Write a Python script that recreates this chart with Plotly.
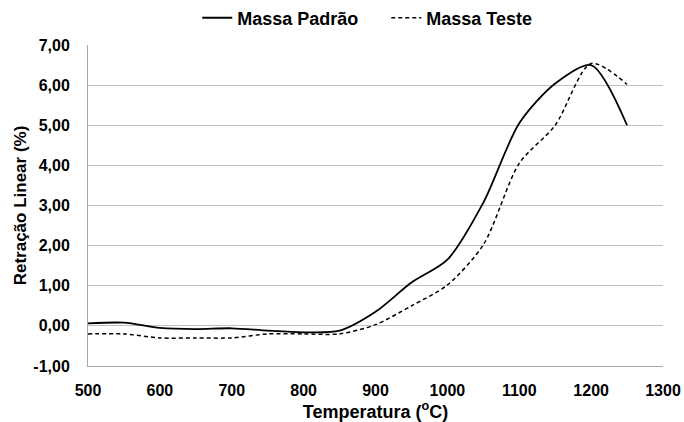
import plotly.graph_objects as go

# Sintering temperature (°C) and linear shrinkage (%) for each body
temperatura = [500, 550, 600, 650, 700, 750, 800, 850, 900, 950, 1000, 1050, 1100, 1150, 1200, 1250]
massa_padrao = [0.06, 0.08, -0.05, -0.08, -0.06, -0.12, -0.16, -0.12, 0.35, 1.08, 1.65, 3.07, 5.05, 6.04, 6.50, 5.00]
massa_teste = [-0.20, -0.20, -0.30, -0.30, -0.30, -0.20, -0.20, -0.20, 0.03, 0.50, 1.02, 2.02, 4.05, 5.00, 6.54, 6.02]

y_ticks = [-1, 0, 1, 2, 3, 4, 5, 6, 7]
y_labels = [f"{v:.2f}".replace(".", ",") for v in y_ticks]
x_ticks = [500, 600, 700, 800, 900, 1000, 1100, 1200, 1300]

font_family = "Liberation Sans, Arial, sans-serif"
tick_font = dict(size=16, family=font_family, color="black", weight="bold")
title_font = dict(size=18, family=font_family, color="black", weight="bold")

fig = go.Figure()
fig.add_trace(go.Scatter(
    x=temperatura, y=massa_padrao, name="Massa Padrão", mode="lines",
    line=dict(color="black", width=1.8, shape="spline", smoothing=0.8),
))
fig.add_trace(go.Scatter(
    x=temperatura, y=massa_teste, name="Massa Teste", mode="lines",
    line=dict(color="black", width=1.5, dash="4px,3px", shape="spline", smoothing=0.8),
))

fig.update_layout(
    width=684, height=422,
    margin=dict(l=88, r=21, t=45, b=56, autoexpand=False),
    plot_bgcolor="white", paper_bgcolor="white",
    font=dict(family=font_family, size=16, color="black"),
    showlegend=True,
    legend=dict(
        orientation="h", x=0.19, y=1.084, xref="paper", yref="paper",
        xanchor="left", yanchor="middle",
        font=dict(size=18, family=font_family, color="black", weight="bold"),
        itemwidth=30, entrywidth=144, entrywidthmode="pixels",
        bgcolor="rgba(0,0,0,0)", borderwidth=0,
    ),
    xaxis=dict(
        range=[500, 1300], tickvals=x_ticks, ticktext=[str(v) for v in x_ticks],
        showgrid=False, zeroline=False, showline=True, linecolor="#a6a6a6", linewidth=1,
        ticks="", ticklabelstandoff=10, tickfont=tick_font, automargin=False,
        title=dict(text="Temperatura (<sup>o</sup>C)", font=title_font, standoff=3),
    ),
    yaxis=dict(
        range=[-1, 7], tickvals=y_ticks, ticktext=y_labels,
        showgrid=True, gridcolor="#bfbfbf", gridwidth=1, zeroline=False,
        showline=True, linecolor="#a6a6a6", linewidth=1,
        ticks="", ticklabelstandoff=14, tickfont=tick_font, automargin=False,
        title=dict(text="Retração Linear (%)", font=dict(size=17, family=font_family, color="black", weight="bold"), standoff=2),
    ),
)

fig.write_html("out.html")
